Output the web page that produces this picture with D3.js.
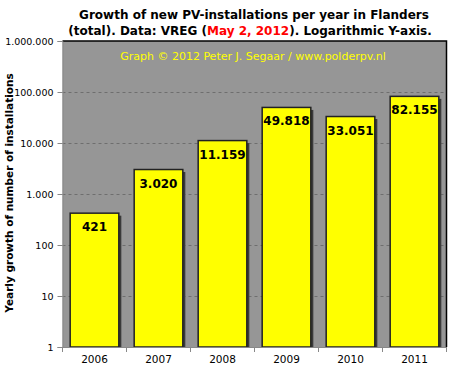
<!DOCTYPE html>
<html><head><meta charset="utf-8">
<script src="https://cdn.jsdelivr.net/npm/d3@7"></script>
<style>body{margin:0;background:#fff}svg{display:block}text{font-family:"DejaVu Sans",Verdana,sans-serif}</style>
</head><body>
<script>
const years = ["2006","2007","2008","2009","2010","2011"];
const values = [421, 3020, 11159, 49818, 33051, 82155];
const labels = ["421","3.020","11.159","49.818","33.051","82.155"];
const yTicks = [1,10,100,1000,10000,100000,1000000];
const yTickLabels = ["1","10","100","1.000","10.000","100.000","1.000.000"];

const W=459,H=381;
const m={l:62.5,r:446.5,t:41,b:347};
const svg=d3.select("body").append("svg").attr("width",W).attr("height",H);

const x=d3.scaleBand().domain(years).range([m.l,m.r]).paddingInner(0.24).paddingOuter(0.12);
const y=d3.scaleLog().domain([1,1e6]).range([m.b,m.t]);

svg.append("rect").attr("x",m.l).attr("y",m.t).attr("width",m.r-m.l).attr("height",m.b-m.t).attr("fill","#969696");

svg.append("g").selectAll("line").data(yTicks.slice(1,-1)).join("line")
 .attr("x1",m.l).attr("x2",m.r).attr("y1",d=>Math.round(y(d))+0.5).attr("y2",d=>Math.round(y(d))+0.5)
 .attr("stroke","#6e6e6e").attr("stroke-dasharray","3,3").attr("stroke-width",1);

// shadows
svg.append("g").selectAll("rect").data(values).join("rect")
 .attr("x",(d,i)=>x(years[i])+2.5).attr("y",d=>y(d)+2.5).attr("width",x.bandwidth()).attr("height",d=>m.b-y(d)-2.5)
 .attr("fill","#3a3a3a");
svg.append("g").selectAll("rect").data(values).join("rect")
 .attr("x",(d,i)=>x(years[i])).attr("y",d=>y(d)).attr("width",x.bandwidth()).attr("height",d=>m.b-y(d))
 .attr("fill","#ffff00").attr("stroke","#222").attr("stroke-width",1.5);

svg.append("g").selectAll("text").data(values).join("text")
 .attr("x",(d,i)=>x(years[i])+x.bandwidth()/2).attr("y",d=>y(d)+18)
 .attr("text-anchor","middle").attr("font-size",12).attr("font-weight","bold").attr("fill","#000")
 .text((d,i)=>labels[i]);

// border top/right
svg.append("path").attr("d",`M${m.l},${m.t}H${m.r}V${m.b}`).attr("fill","none").attr("stroke","#000").attr("stroke-width",1.5);

const yAxis=d3.axisLeft(y).tickValues(yTicks).tickFormat((d,i)=>yTickLabels[i]).tickSize(5).tickPadding(4);
const gy=svg.append("g").attr("transform",`translate(${m.l},0)`).call(yAxis);
gy.selectAll("text").attr("font-size",9.5).attr("fill","#000").style("font-family","'DejaVu Sans',Verdana,sans-serif");
gy.selectAll("line,path").attr("stroke","#888");

const xAxis=d3.axisBottom(x).tickSize(0).tickPadding(9);
const gx=svg.append("g").attr("transform",`translate(0,${m.b})`).call(xAxis);
gx.select("path").attr("stroke","#888");
gx.selectAll("text").attr("font-size",10.5).attr("fill","#000").style("font-family","'DejaVu Sans',Verdana,sans-serif");
gx.selectAll(".bt").data(d3.range(years.length+1)).join("line").attr("class","bt")
 .attr("x1",i=>m.l+i*(m.r-m.l)/years.length).attr("x2",i=>m.l+i*(m.r-m.l)/years.length)
 .attr("y1",0).attr("y2",5).attr("stroke","#888");

svg.append("text").attr("x",253).attr("y",60).attr("text-anchor","middle").attr("font-size",11).attr("fill","#ffff00")
 .text("Graph © 2012 Peter J. Segaar / www.polderpv.nl");

const t1=svg.append("text").attr("x",254).attr("y",19).attr("text-anchor","middle").attr("font-size",12).attr("font-weight","bold").attr("fill","#000");
t1.text("Growth of new PV-installations per year in Flanders");
const t2=svg.append("text").attr("x",250).attr("y",35).attr("text-anchor","middle").attr("font-size",12).attr("font-weight","bold").attr("fill","#000");
t2.append("tspan").text("(total). Data: VREG (");
t2.append("tspan").attr("fill","#ff0000").text("May 2, 2012");
t2.append("tspan").text("). Logarithmic Y-axis.");

svg.append("text").attr("transform",`translate(13,193) rotate(-90)`).attr("text-anchor","middle")
 .attr("font-size",10.5).attr("font-weight","bold").attr("fill","#000").text("Yearly growth of number of installations");
</script>
</body></html>
